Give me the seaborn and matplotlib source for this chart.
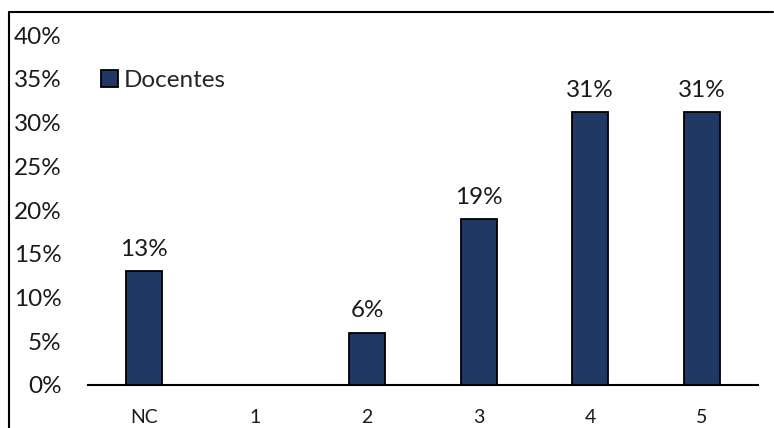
import matplotlib
matplotlib.use("Agg")
import matplotlib.pyplot as plt
import seaborn as sns
import pandas as pd
from matplotlib.lines import Line2D

# Data
categories = ['NC', '1', '2', '3', '4', '5']
docentes = [13, 0, 6, 19, 31.2, 31.2]
bar_labels = ['13%', '', '6%', '19%', '31%', '31%']
y_ticks = [0, 5, 10, 15, 20, 25, 30, 35, 40]
y_tick_labels = [f'{v}%' for v in y_ticks]

df = pd.DataFrame({'categoria': categories, 'valor': docentes})

sns.set_theme(style='white')
plt.rcParams['font.family'] = ['Lato', 'DejaVu Sans']

fig = plt.figure(figsize=(7.74, 4.28), dpi=100)
ax = fig.add_axes([0.1137, 0.1005, 0.979 - 0.1137, 0.918 - 0.1005])

sns.barplot(data=df, x='categoria', y='valor', color='#203864', saturation=1,
            width=0.32, edgecolor='black', linewidth=1.3, label='Docentes', ax=ax)

ax.set_ylim(0, 40)
ax.set_xlim(-0.5, 5.5)
ax.set_yticks(y_ticks)
ax.set_yticklabels(y_tick_labels, fontsize=17.5, color='#1a1a1a')
ax.tick_params(axis='y', length=0, pad=19)
ax.tick_params(axis='x', length=0, pad=17.5, labelsize=14, labelcolor='#1a1a1a')
ax.set_xlabel('')
ax.set_ylabel('')
for s in ['top', 'right', 'left']:
    ax.spines[s].set_visible(False)
ax.spines['bottom'].set_color('black')
ax.spines['bottom'].set_linewidth(1.5)

ax.bar_label(ax.containers[0], labels=bar_labels, padding=8, fontsize=17.5, color='#1a1a1a')

ax.legend(loc='center left', bbox_to_anchor=(0.005, 0.869), frameon=False, fontsize=17.5,
          handlelength=0.7, handleheight=0.7, handletextpad=0.25, borderaxespad=0)

# chart border (top and left edges visible in the crop)
fig.add_artist(Line2D([9 / 774, 773 / 774], [1 - 12 / 428, 1 - 12 / 428], color='black', lw=1.5))
fig.add_artist(Line2D([9 / 774, 9 / 774], [0, 1 - 12 / 428], color='black', lw=1.5))

fig.savefig('out.png', dpi=100)
